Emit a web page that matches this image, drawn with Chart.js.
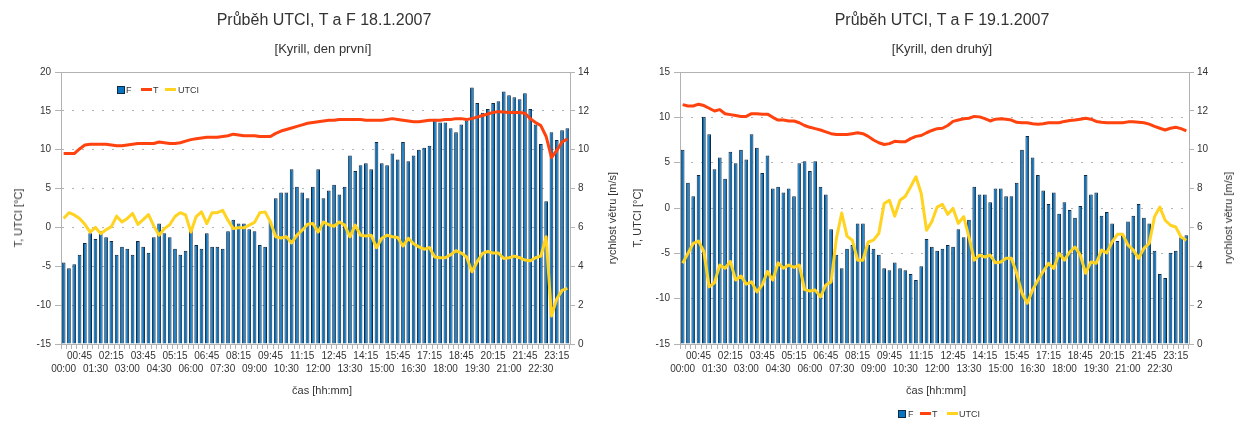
<!DOCTYPE html>
<html>
<head>
<meta charset="utf-8">
<title>Průběh UTCI, T a F</title>
<script src="https://cdn.jsdelivr.net/npm/chart.js@4.4.1/dist/chart.umd.min.js"></script>
<style>
  html, body { margin: 0; padding: 0; background: #fff; }
  body { position: relative; width: 1234px; height: 422px; overflow: hidden;
         font-family: "Liberation Sans", Arial, sans-serif; color: #333; }
  canvas { position: absolute; top: 0; }
  .t { position: absolute; white-space: nowrap; transform: translate(-50%, -50%); }
  .rot { transform: translate(-50%, -50%) rotate(-90deg); }
  .leg { position: absolute; font-size: 9px; line-height: 10px; white-space: nowrap; }
  .leg span { position: absolute; top: 0; }
  .box { width: 6px; height: 6px; background: #0874c0; border: 1px solid #0f2a45; top: 1px !important; }
  .ln { height: 3px; top: 3px !important; }
</style>
</head>
<body>
<canvas id="c1" width="617" height="422" style="left:0px"></canvas>
<canvas id="c2" width="614" height="422" style="left:620px"></canvas>

<div class="t" style="left:324px;top:20px;font-size:16px">Průběh UTCI, T a F 18.1.2007</div>
<div class="t" style="left:323px;top:48px;font-size:13px">[Kyrill, den první]</div>
<div class="t rot" style="left:18px;top:218px;font-size:11px">T, UTCI [°C]</div>
<div class="t rot" style="left:612px;top:218px;font-size:11px">rychlost větru [m/s]</div>
<div class="t" style="left:322px;top:390px;font-size:11px">čas [hh:mm]</div>
<div class="leg" style="left:117px;top:85px">
  <span class="box" style="left:0px"></span><span style="left:9px">F</span>
  <span class="ln" style="left:24px;width:11px;background:#ff420e"></span><span style="left:36px">T</span>
  <span class="ln" style="left:48px;width:11px;background:#ffd320"></span><span style="left:61px">UTCI</span>
</div>

<div class="t" style="left:942px;top:20px;font-size:16px">Průběh UTCI, T a F 19.1.2007</div>
<div class="t" style="left:942px;top:48px;font-size:13px">[Kyrill, den druhý]</div>
<div class="t rot" style="left:637px;top:218px;font-size:11px">T, UTCI [°C]</div>
<div class="t rot" style="left:1228px;top:218px;font-size:11px">rychlost větru [m/s]</div>
<div class="t" style="left:936px;top:390px;font-size:11px">čas [hh:mm]</div>
<div class="leg" style="left:898px;top:409px">
  <span class="box" style="left:0px"></span><span style="left:10px">F</span>
  <span class="ln" style="left:22px;width:11px;background:#ff420e"></span><span style="left:34px">T</span>
  <span class="ln" style="left:49px;width:11px;background:#ffd320"></span><span style="left:61px">UTCI</span>
</div>

<script>
// time of day, one value every 15 minutes
const times = [
  '00:00','00:15','00:30','00:45','01:00','01:15','01:30','01:45',
  '02:00','02:15','02:30','02:45','03:00','03:15','03:30','03:45',
  '04:00','04:15','04:30','04:45','05:00','05:15','05:30','05:45',
  '06:00','06:15','06:30','06:45','07:00','07:15','07:30','07:45',
  '08:00','08:15','08:30','08:45','09:00','09:15','09:30','09:45',
  '10:00','10:15','10:30','10:45','11:00','11:15','11:30','11:45',
  '12:00','12:15','12:30','12:45','13:00','13:15','13:30','13:45',
  '14:00','14:15','14:30','14:45','15:00','15:15','15:30','15:45',
  '16:00','16:15','16:30','16:45','17:00','17:15','17:30','17:45',
  '18:00','18:15','18:30','18:45','19:00','19:15','19:30','19:45',
  '20:00','20:15','20:30','20:45','21:00','21:15','21:30','21:45',
  '22:00','22:15','22:30','22:45','23:00','23:15','23:30','23:45'
];

// 18.1.2007 - wind speed F [m/s], temperature T and UTCI [°C]
const f1 = [
  4.2, 3.9, 4.1, 4.6, 5.2, 5.7, 5.4, 5.8, 5.5, 5.3,
  4.6, 5.0, 4.9, 4.6, 5.3, 5.0, 4.7, 5.5, 6.2, 5.7,
  5.5, 4.9, 4.6, 4.8, 6.0, 5.1, 4.9, 5.7, 5.0, 5.0,
  4.9, 5.8, 6.4, 6.2, 6.2, 5.9, 5.8, 5.1, 5.0, 6.3,
  7.5, 7.8, 7.8, 9.0, 8.1, 7.8, 7.5, 8.1, 9.0, 7.5,
  7.9, 8.2, 7.7, 8.1, 9.7, 8.9, 9.2, 9.3, 9.0, 10.4,
  9.3, 9.2, 9.8, 9.5, 10.4, 9.4, 9.7, 10.0, 10.1, 10.2,
  11.6, 11.4, 11.4, 11.1, 10.9, 11.3, 11.5, 13.2, 12.4, 11.9,
  12.1, 12.4, 12.5, 13.0, 12.8, 12.7, 12.6, 12.9, 12.1, 11.3,
  10.3, 7.35, 10.9, 10.5, 11.0, 11.1
];
const t1 = [
  9.5, 9.5, 9.5, 10.1, 10.6, 10.7, 10.7, 10.7, 10.7, 10.6,
  10.5, 10.5, 10.6, 10.7, 10.8, 10.8, 10.8, 10.8, 11.0, 10.9,
  10.8, 10.8, 10.9, 11.1, 11.3, 11.4, 11.5, 11.6, 11.6, 11.6,
  11.7, 11.8, 12.0, 11.9, 11.8, 11.8, 11.8, 11.7, 11.7, 11.7,
  12.1, 12.4, 12.6, 12.8, 13.0, 13.2, 13.4, 13.5, 13.6, 13.7,
  13.8, 13.8, 13.9, 13.9, 13.9, 13.9, 13.9, 13.8, 13.8, 13.8,
  13.8, 13.9, 14.0, 13.9, 13.8, 13.7, 13.6, 13.6, 13.7, 13.8,
  13.8, 13.8, 13.9, 13.9, 14.0, 14.0, 13.9, 14.0, 14.2, 14.4,
  14.6, 14.8, 14.9, 14.85, 14.8, 14.8, 14.8, 14.7, 14.0, 13.5,
  13.1, 11.7, 9.0, 9.9, 11.0, 11.4
];
const utci1 = [
  1.15, 1.9, 1.6, 1.15, 0.4, -0.6, 0.0, -0.8, -0.3, 0.1,
  1.45, 0.7, 1.15, 1.8, 0.4, 1.0, 1.65, 0.2, -1.0, -0.15,
  0.35, 1.4, 1.9, 1.6, -0.6, 1.4, 2.0, 0.5, 1.9, 1.9,
  2.2, 0.9, -0.15, -0.05, -0.05, 0.3, 0.65, 1.9, 2.0, 0.7,
  -1.2, -1.35, -1.2, -2.0, -1.0, -0.35, 0.4, 0.5, -0.6, 0.7,
  0.35, 0.15, 0.7, 0.3, -1.2, 0.3, -1.0, -1.1, -1.0, -2.6,
  -1.4, -1.0, -1.2, -1.3, -2.4, -1.4, -2.1, -2.5, -2.8, -2.6,
  -3.8, -3.9, -3.9, -3.5, -3.0, -3.3, -3.8, -5.7, -4.4, -3.35,
  -3.1, -3.3, -3.3, -4.0, -3.9, -3.7, -3.9, -4.2, -4.3, -3.9,
  -3.7, -1.2, -11.4, -9.2, -8.1, -7.85
];

// 19.1.2007
const f2 = [
  10.0, 8.3, 7.6, 8.7, 11.7, 10.8, 9.0, 9.6, 8.5, 9.9,
  9.3, 10.0, 9.5, 10.8, 10.1, 8.8, 9.7, 8.0, 8.1, 7.8,
  8.0, 7.6, 9.3, 9.4, 8.9, 9.4, 8.1, 7.7, 5.9, 4.6,
  3.9, 4.9, 5.1, 6.2, 6.2, 5.1, 4.9, 4.6, 3.9, 3.8,
  4.2, 3.9, 3.8, 3.6, 3.3, 4.0, 5.4, 5.0, 4.8, 4.9,
  5.1, 5.0, 5.9, 5.5, 6.4, 8.1, 7.7, 7.7, 7.3, 8.0,
  8.0, 7.6, 7.6, 8.3, 10.0, 10.7, 9.6, 8.7, 7.9, 7.2,
  7.8, 6.7, 7.3, 6.9, 6.5, 7.1, 8.7, 7.7, 7.8, 6.6,
  6.8, 6.2, 5.3, 5.6, 6.3, 6.6, 7.2, 6.5, 6.2, 4.8,
  3.6, 3.4, 4.7, 4.8, 5.5, 5.6
];
const t2 = [
  11.4, 11.25, 11.25, 11.45, 11.3, 11.0, 10.7, 10.85, 10.4, 10.3,
  10.2, 10.1, 10.1, 10.4, 10.4, 10.35, 10.35, 10.0, 9.7, 9.7,
  9.6, 9.6, 9.4, 9.1, 8.9, 8.75, 8.6, 8.4, 8.2, 8.1,
  8.1, 8.1, 8.2, 8.3, 8.2, 7.9, 7.5, 7.2, 7.0, 7.1,
  7.35, 7.3, 7.3, 7.65, 7.9, 8.0, 8.3, 8.55, 8.75, 8.8,
  9.1, 9.55, 9.7, 9.85, 9.9, 10.1, 10.05, 9.85, 9.6, 9.8,
  9.85, 9.8, 9.7, 9.45, 9.4, 9.4, 9.3, 9.25, 9.3, 9.4,
  9.4, 9.4, 9.55, 9.65, 9.7, 9.8, 9.9, 9.8, 9.55, 9.45,
  9.4, 9.4, 9.4, 9.4, 9.5, 9.5, 9.45, 9.4, 9.25, 9.0,
  8.8, 8.6, 8.8, 8.9, 8.75, 8.5
];
const utci2 = [
  -6.1, -5.0, -3.9, -3.65, -4.8, -8.7, -8.25, -6.3, -6.65, -5.9,
  -7.95, -7.5, -8.4, -8.15, -9.25, -8.5, -7.0, -7.95, -6.05, -6.65,
  -6.3, -6.55, -6.3, -9.0, -9.15, -9.05, -9.8, -8.5, -8.15, -3.35,
  -0.55, -3.1, -3.55, -5.75, -5.75, -3.75, -3.55, -2.8, 0.5, 0.85,
  -0.9, 0.85, 1.3, 2.35, 3.45, 1.6, -2.45, -1.5, 0.1, 0.4,
  -0.7, -0.05, -1.7, -0.95, -3.2, -5.75, -5.2, -5.4, -5.2, -6.05,
  -5.95, -5.55, -5.55, -7.2, -9.4, -10.5, -9.05, -7.95, -7.0, -6.1,
  -6.65, -5.0, -5.75, -4.85, -4.3, -5.2, -7.2, -5.95, -6.1, -4.65,
  -4.95, -3.75, -2.9, -2.9, -4.1, -4.65, -5.55, -4.45, -3.9, -0.95,
  0.1, -1.35, -1.9, -2.1, -3.2, -3.55
];

const FONT = '"Liberation Sans", Arial, sans-serif';
const AXIS = '#b3b3b3';
const TEXT = '#333';

// every third time is labelled, alternating between two rows
function timeLabel(i) {
    if (i % 3 !== 0) return '';
    const k = i / 3;
    return k % 2 ? [times[i], ''] : ['', times[i]];
}

function buildChart(id, f, t, utci, tMin, tMax, leftW, rightW) {
    const ctx = document.getElementById(id).getContext('2d');
    return new Chart(ctx, {
        type: 'bar',
        data: {
            labels: times,
            datasets: [
                {
                    type: 'line', label: 'T', data: t, yAxisID: 'y',
                    borderColor: '#ff420e', backgroundColor: '#ff420e',
                    borderWidth: 3, pointRadius: 0, borderJoinStyle: 'round', order: 2
                },
                {
                    type: 'line', label: 'UTCI', data: utci, yAxisID: 'y',
                    borderColor: '#ffd320', backgroundColor: '#ffd320',
                    borderWidth: 3, pointRadius: 0, borderJoinStyle: 'round', order: 1
                },
                {
                    type: 'bar', label: 'F', data: f, yAxisID: 'y1',
                    backgroundColor: '#0874c0', borderColor: '#0f2a45', borderWidth: 1,
                    barPercentage: 0.7, categoryPercentage: 1, order: 3
                }
            ]
        },
        options: {
            responsive: false,
            animation: false,
            devicePixelRatio: 1,
            layout: { padding: { top: 72, left: 0, right: 0, bottom: 0 } },
            plugins: { legend: { display: false }, tooltip: { enabled: false } },
            scales: {
                x: {
                    grid: { drawOnChartArea: false, tickLength: 5, tickColor: AXIS, offset: true },
                    border: { color: AXIS },
                    ticks: {
                        autoSkip: false, maxRotation: 0, minRotation: 0, padding: 1, color: TEXT,
                        font: { family: FONT, size: 10, lineHeight: 1.3 },
                        callback: function(value, index) { return timeLabel(index); }
                    },
                    afterFit: function(scale) { scale.height = 78; }
                },
                x2: {
                    position: 'top',
                    grid: { display: false },
                    ticks: { display: false },
                    border: { color: AXIS },
                    afterFit: function(scale) { scale.height = 0; }
                },
                y: {
                    position: 'left', min: tMin, max: tMax,
                    ticks: { stepSize: 5, padding: 4, color: TEXT, font: { family: FONT, size: 10 } },
                    grid: { color: AXIS, tickLength: 6, tickColor: AXIS },
                    border: { color: AXIS, dash: [2, 8] },
                    afterFit: function(scale) { scale.width = leftW; }
                },
                y1: {
                    position: 'right', min: 0, max: 14,
                    ticks: { stepSize: 2, padding: 3, color: TEXT, font: { family: FONT, size: 10 } },
                    grid: { drawOnChartArea: false, tickLength: 5, tickColor: AXIS },
                    border: { color: AXIS },
                    afterFit: function(scale) { scale.width = rightW; }
                }
            }
        }
    });
}

buildChart('c1', f1, t1, utci1, -15, 20, 61, 47);
buildChart('c2', f2, t2, utci2, -15, 15, 60, 45);
</script>
</body>
</html>
